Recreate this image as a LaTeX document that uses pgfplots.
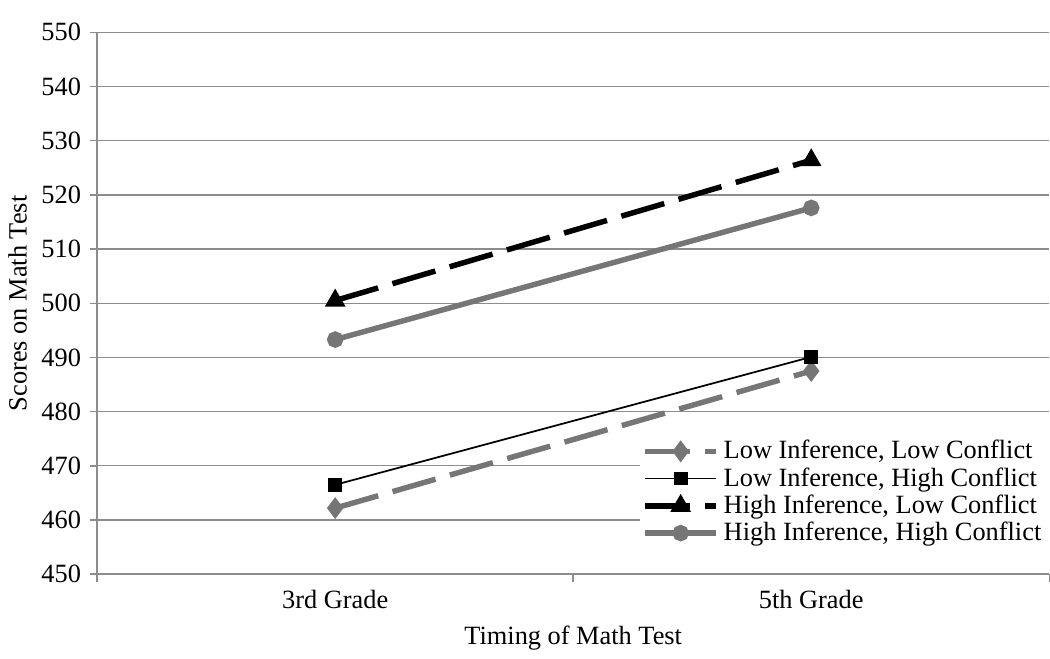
\documentclass[border=0pt]{standalone}
\usepackage{pgfplots}
\pgfplotsset{compat=1.18}
\usepackage{fontspec}
\setmainfont{Liberation Serif}
\definecolor{mgray}{RGB}{118,118,118}
\definecolor{gridgray}{RGB}{140,140,140}
\begin{document}
\begin{tikzpicture}
\begin{axis}[
  scale only axis, width=383pt, height=218pt,
  font=\fontsize{10.6}{12}\selectfont,
  xmin=0.5, xmax=2.5, ymin=450, ymax=550,
  xtick={0.5,1.5,2.5}, x tick label as interval,
  xticklabels={3rd Grade,5th Grade},
  ytick={450,460,...,550},
  /pgf/number format/assume math mode=true,
  axis lines*=left, axis line style={gridgray, line width=0.6pt},
  tick style={gridgray, line width=0.6pt}, tick align=outside,
  major tick length=3pt,
  ymajorgrids, grid style={gridgray, line width=0.5pt},
  xlabel={Timing of Math Test}, ylabel={Scores on Math Test},
  xlabel style={yshift=0pt}, ylabel style={yshift=-1pt},
  legend style={at={(1,0.262)}, anchor=north east, draw=none, fill=white,
    font=\fontsize{10.6}{12}\selectfont, row sep=-2pt, inner sep=1pt},
  legend cell align=left,
  legend image code/.code={\draw[mark repeat=2,mark phase=2,#1]
    plot coordinates {(0cm,0cm) (0.5cm,0cm) (1cm,0cm)};},
]
\addplot[mgray, line width=2.2pt, dash pattern=on 18pt off 6pt,
  mark=diamond*, mark size=2.6pt, mark options={solid, fill=mgray}]
  coordinates {(1,462.2) (2,487.5)};
\addplot[black, line width=0.7pt, mark=square*, mark size=2.4pt, mark options={fill=black}]
  coordinates {(1,466.5) (2,490.1)};
\addplot[black, line width=2.2pt, dash pattern=on 18pt off 6pt,
  mark=triangle*, mark size=2.6pt, mark options={solid, fill=black}]
  coordinates {(1,500.5) (2,526.4)};
\addplot[mgray, line width=2.2pt, mark=*, mark size=2.2pt, mark options={fill=mgray}]
  coordinates {(1,493.3) (2,517.6)};
\legend{{Low Inference, Low Conflict}, {Low Inference, High Conflict},
  {High Inference, Low Conflict}, {High Inference, High Conflict}}
\end{axis}
\path ([yshift=13pt]current axis.north);
\end{tikzpicture}
\end{document}
